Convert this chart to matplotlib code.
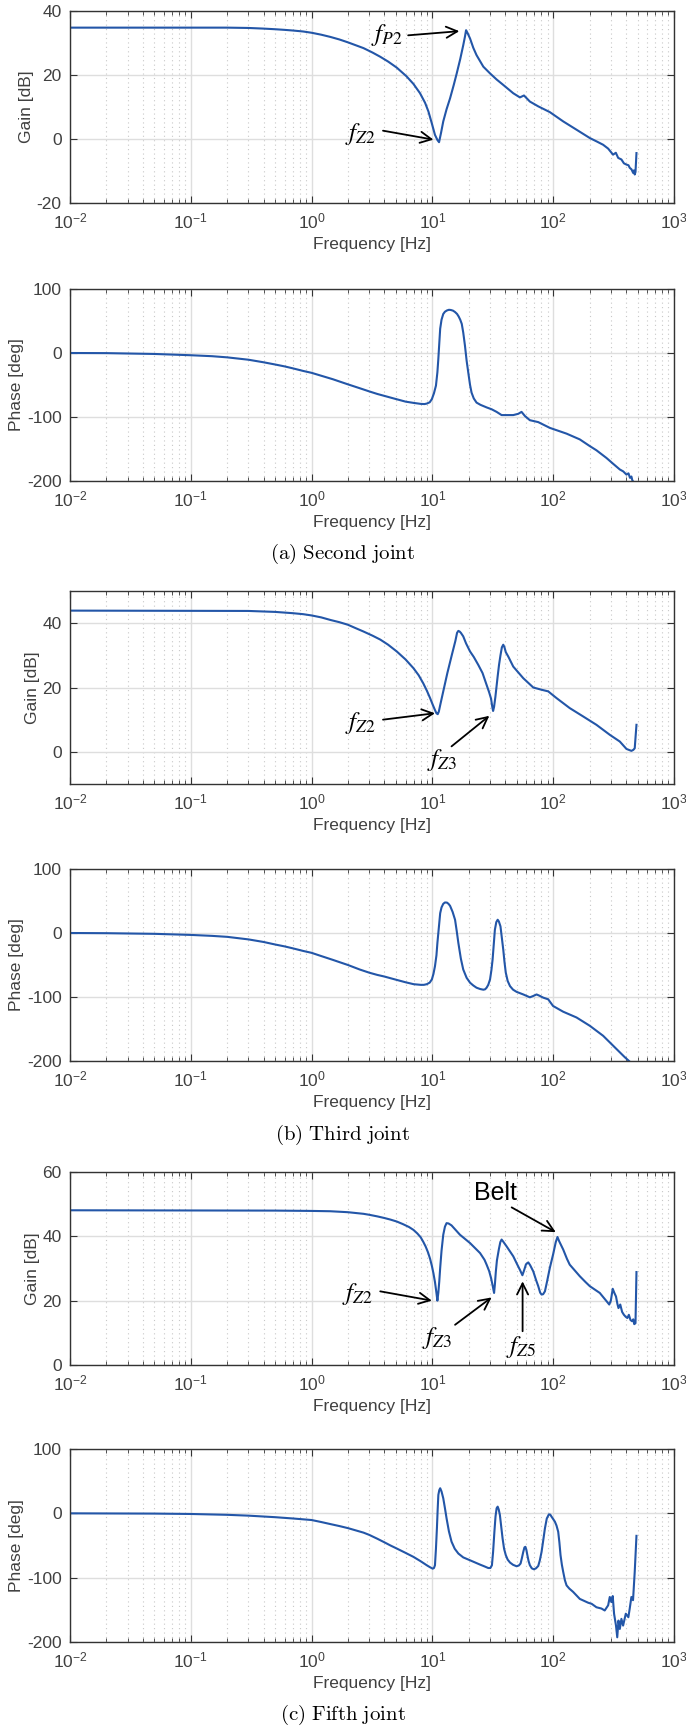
import matplotlib
matplotlib.use("Agg")
import matplotlib.pyplot as plt
from matplotlib.ticker import LogLocator, NullFormatter

plt.rcParams['font.family'] = ['Liberation Sans', 'DejaVu Sans']
plt.rcParams['axes.unicode_minus'] = False

# (a) second joint
f_gain_a = [0.01, 0.2, 0.3, 0.4, 0.5, 0.6, 0.7, 0.85, 1.0, 1.2, 1.43, 1.7, 2.0, 2.69, 3.2, 3.7,
            4.3, 5.07, 6.1, 6.97, 7.9, 8.7, 9.27, 9.87, 10.5, 11.0, 11.35, 11.8, 12.3, 13.1,
            14.0, 15.0, 15.9, 17.0, 18.0, 18.6, 19.0, 19.5, 20.5, 21.8, 23.2, 26.4, 30.0,
            34.0, 38.6, 46.7, 53.0, 57.3, 64.1, 75.2, 93.8, 121, 156, 201, 230, 259, 285, 313,
            330, 345, 367, 385, 404, 420, 430, 445, 459, 466, 473, 480, 489]
gain_a = [34.8, 34.8, 34.7, 34.5, 34.3, 34.1, 33.9, 33.6, 33.2, 32.6, 31.9, 31.1, 30.2, 28.4,
          27.0, 25.7, 24.2, 22.3, 19.6, 17.2, 14.3, 11.3, 8.6, 5.0, 1.3, -0.3, -1.0, 2.0, 5.5,
          9.3, 12.7, 16.8, 20.5, 25.0, 29.3, 32.0, 34.0, 33.2, 31.4, 28.5, 26.2, 22.6, 20.5,
          18.6, 16.9, 14.3, 13.0, 13.6, 11.7, 10.2, 8.4, 5.5, 2.9, 0.3, -0.8, -1.8, -3.0, -4.9,
          -4.3, -5.9, -6.4, -7.6, -8.0, -8.2, -9.0, -9.5, -10.6, -9.8, -11.1, -10.3, -4.4]
f_phase_a = [0.01, 0.02, 0.05, 0.1, 0.15, 0.2, 0.3, 0.4, 0.5, 0.6, 0.7, 0.85, 1.0, 1.2, 1.5, 1.7,
             2.0, 2.5, 3.0, 3.5, 4.0, 5.0, 6.0, 7.0, 8.0, 8.6, 9.0, 9.5, 9.9, 10.3, 10.7, 11.0,
             11.2, 11.4, 11.6, 11.9, 12.3, 12.7, 13.2, 13.7, 14.2, 14.8, 15.4, 16.0, 16.5,
             17.0, 17.5, 18.0, 18.6, 19.2, 19.9, 20.5, 21.1, 22.0, 23.2, 25.0, 28.1, 31.0,
             34.0, 37.4, 46.7, 51.4, 54.7, 58.3, 64.1, 75.2, 93.8, 129, 166, 201, 228, 276,
             313, 356, 380, 404, 420, 432, 444, 452, 458]
phase_a = [0, -0.2, -1.5, -3.5, -5, -6.8, -10.5, -14.5, -18, -21, -24, -28, -31, -35.5, -41, -44.5,
           -49, -55, -60, -64, -67, -72, -76, -78, -79.5, -79.8, -79, -77, -72, -63, -51, -30,
           -9, 15, 38, 52, 61, 64.5, 66.5, 67.5, 67.2, 66.2, 64, 61, 57,
           52, 45.5, 32, 11.5, -12, -33, -50, -62, -71, -77.5, -81, -85, -88,
           -92, -97, -97, -95, -92, -98.4, -105, -108, -117, -126, -135, -145.5, -152, -164,
           -173, -182, -185, -190, -188, -195, -193, -199, -200.5]

# (b) third joint
f_gain_b = [0.01, 0.3, 0.5, 0.7, 0.85, 1.0, 1.2, 1.43, 1.7, 2.0, 2.3, 2.69, 3.2, 3.7, 4.3, 5.07,
            6.0, 6.97, 7.7, 8.4, 9.0, 9.57, 10.0, 10.5, 10.8, 11.07, 11.3, 11.6, 12.3, 13.3,
            14.5, 15.5, 16.0, 16.4, 16.8, 17.2, 18.0, 19.0, 20.5, 22.0, 24.0, 26.0, 28.1, 29.5,
            30.6, 31.3, 31.8, 32.4, 33.2, 34.0, 34.7, 35.6, 36.6, 37.6, 38.6, 39.5, 40.5, 42.5,
            46.7, 56.5, 68.4, 80.1, 90.9, 106.6, 137, 177, 228, 294, 356, 404, 444, 460, 473,
            489]
gain_b = [43.9, 43.8, 43.5, 43.1, 42.8, 42.4, 41.8, 41.0, 40.3, 39.5, 38.5, 37.4, 36.1, 34.9,
          33.3, 31.2, 28.7, 26.0, 23.8, 21.3, 19.0, 16.7, 14.9, 13.0, 12.0, 11.7, 12.5, 14.5,
          18.8, 24.5, 30.2, 34.5, 37.0, 37.6, 37.4, 37.0, 35.9, 33.7, 31.2, 29.5, 27.0, 24.5,
          20.8, 18.5, 16.5, 14.0, 12.7, 14.0, 17.0, 20.5, 23.5, 27.0, 30.0, 32.5, 33.3, 32.5,
          31.0, 29.6, 26.5, 22.9, 20.0, 19.3, 18.8, 16.7, 13.6, 11.0, 8.4, 5.3, 3.2, 0.9, 0.3,
          0.6, 1.1, 8.4]
f_phase_b = [0.01, 0.02, 0.05, 0.1, 0.15, 0.2, 0.3, 0.4, 0.5, 0.6, 0.7, 0.85, 1.0, 1.2, 1.5, 1.7,
             2.0, 2.5, 3.0, 3.5, 4.0, 5.0, 6.0, 7.0, 8.0, 8.5, 8.98, 9.5, 9.9, 10.2, 10.5, 10.8,
             11.0, 11.3, 11.6, 11.9, 12.3, 12.7, 13.2, 13.6, 14.0, 14.7, 15.4, 15.9, 16.4,
             17.2, 18.0, 19.2, 20.5, 21.8, 23.2, 24.8, 26.4, 27.3, 28.1, 29.0, 30.0, 30.8,
             31.5, 32.2, 32.9, 33.8, 34.7, 35.5, 36.6, 37.6, 38.6, 39.5, 40.5, 42.0, 43.9,
             46.5, 49.8, 56.5, 64.1, 68.4, 72.8, 77.0, 82.7, 90.9, 99.7, 121, 156, 201, 259,
             333, 391, 430]
phase_b = [0, -0.3, -1.3, -3, -4.5, -6, -10, -14, -18, -21, -24, -28, -31, -36, -42, -45.5,
           -50, -57, -62, -65.5, -68, -73, -77, -80, -81, -81, -80, -77.5, -72.5, -64, -52, -35,
           -15.5, 8, 31, 40, 45.6, 47.7, 47.5, 45.5, 42.5, 33, 20.7, 3, -15.5,
           -40, -57, -70, -77.7, -82, -85.5, -87.5, -88.6, -88, -85.5, -81, -72.5, -58,
           -41.5, -18, 5, 17, 20.7, 18, 10.4, -8, -26, -45, -62, -75, -83,
           -88.5, -92, -96, -100.5, -98.4, -96, -98, -101, -103.6, -114, -123, -132, -145, -160.6,
           -181, -194, -201]

# (c) fifth joint
f_gain_c = [0.01, 0.5, 1.0, 1.43, 2.0, 2.69, 3.0, 3.5, 4.0, 4.5, 5.07, 5.7, 6.4, 6.97, 7.5, 8.0,
            8.4, 8.8, 9.2, 9.57, 9.9, 10.2, 10.5, 10.75, 11.0, 11.2, 11.4, 11.6, 11.9, 12.3,
            12.7, 13.1, 13.6, 14.4, 16.9, 20.5, 24.8, 27.0, 28.1, 29.5, 30.6, 31.6, 32.4, 32.9,
            33.5, 34.2, 35.5, 36.5, 37.4, 38.5, 41.1, 46.7, 50.0, 53.0, 55.6, 57.5, 59.5, 62.2,
            64.5, 68.4, 72.0, 75.2, 78.0, 80.1, 82.5, 85.4, 89.0, 93.8, 100, 105, 108.5, 112,
            121, 130, 137, 150, 166, 185, 201, 243, 277, 291, 300, 311, 320, 331, 340, 347,
            359, 372, 385, 398, 411, 423, 436, 450, 460, 469, 480, 489]
gain_c = [48.1, 48.0, 47.9, 47.8, 47.5, 47.0, 46.7, 46.2, 45.7, 45.2, 44.6, 43.8, 42.9, 42.0,
          40.9, 39.7, 38.3, 36.8, 35.0, 33.0, 30.8, 28.5, 25.8, 23.0, 20.0, 22.5, 26.0, 30.2,
          35.5, 40.5, 43.0, 44.1, 44.0, 43.4, 40.5, 37.9, 34.8, 32.7, 31.2, 29.2, 27.0, 24.5,
          22.4, 25.0, 29.0, 32.5, 36.0, 38.2, 39.0, 38.4, 36.9, 33.8, 31.5, 29.6, 27.9, 29.5,
          31.3, 31.9, 31.0, 29.1, 26.5, 24.5, 22.5, 21.9, 22.0, 22.9, 26.0, 30.2, 34.5, 38.2,
          39.8, 38.5, 35.9, 33.0, 31.2, 29.5, 27.6, 25.8, 24.5, 22.4, 19.8, 18.8, 20.0, 23.7,
          22.5, 21.3, 19.0, 17.7, 18.8, 16.5, 15.6, 15.0, 14.6, 15.6, 14.0, 13.6, 14.2, 12.7,
          13.0, 28.9]
f_phase_c = [0.01, 0.05, 0.1, 0.2, 0.3, 0.5, 0.7, 1.0, 1.2, 1.43, 1.7, 2.0, 2.69, 3.0, 3.5, 4.0,
             4.5, 5.07, 6.0, 6.97, 8.0, 8.98, 9.5, 10.06, 10.3, 10.5, 10.7, 10.9, 11.05, 11.2,
             11.4, 11.6, 11.9, 12.3, 12.7, 13.1, 13.7, 14.4, 15.3, 16.4, 18.0, 20.5, 24.8,
             27.0, 29.0, 30.2, 31.1, 31.8, 32.6, 33.3, 34.0, 34.7, 35.4, 36.2, 37.2, 38.1,
             39.2, 40.5, 42.0, 43.9, 46.5, 49.8, 52.0, 53.7, 55.0, 56.5, 57.8, 58.9, 60.0,
             61.1, 62.5, 64.1, 66.5, 69.2, 72.0, 75.2, 77.5, 80.1, 82.7, 85.4, 88.5, 92.1,
             94.5, 96.9, 100, 103.3, 106.5, 110, 112.5, 115, 118, 121, 125, 129, 136, 146, 166,
             195, 208, 228, 251, 267, 285, 294, 303, 311, 319, 331, 339, 347, 356, 367, 379,
             399, 419, 430, 444, 458, 473, 489]
phase_c = [0, -0.4, -1, -2.3, -3.6, -6, -8, -10.4, -13.5, -16.7, -19.8, -23, -30, -33.5, -39.5, -45,
           -50, -54.7, -61.5, -67.7, -74.5, -80.7, -83.5, -86, -85, -80.7, -55, -23, 5, 28.6,
           36, 39, 34, 23.4, 8, -7.8, -28, -44, -55, -62.5, -68.5, -73, -79.7,
           -82.5, -85, -85, -80.7, -60, -28.6, -5, 7.8, 10.4, 6, -2.6, -22, -39,
           -55, -65, -72, -76.5, -80, -82.3, -81, -78, -70, -60, -53, -52, -57,
           -65, -74, -80.7, -85.5, -87, -85.5, -81.8, -73, -60, -42, -23.4, -8, -1.6,
           -2, -5.2, -9, -13, -19, -28.6, -45, -65, -80, -91, -104, -112, -117, -122, -133,
           -139, -140.6, -146, -148, -151, -143, -130, -138, -128.6, -156, -174.5, -192.7,
           -166.7, -179.7, -164, -174.5, -156, -161.5, -148, -130, -135, -91, -35]

captions = ['(a) Second joint', '(b) Third joint', '(c) Fifth joint']

W, H = 686, 1728
fig = plt.figure(figsize=(W / 100, H / 100), dpi=100)

left, right = 70, 674
panels = [(11, 203), (289, 481), (591, 784), (869, 1061), (1172, 1365), (1449, 1642)]
caption_y = [554, 1135, 1715]

blue = '#2356a8'
gray = '#404040'


def make_ax(top, bottom):
    ax = fig.add_axes([left / W, 1 - bottom / H, (right - left) / W, (bottom - top) / H])
    ax.set_xscale('log')
    ax.set_xlim(1e-2, 1e3)
    ax.xaxis.set_major_locator(LogLocator(base=10, numticks=10))
    ax.xaxis.set_minor_locator(LogLocator(base=10, subs=range(2, 10), numticks=20))
    ax.xaxis.set_minor_formatter(NullFormatter())
    ax.grid(True, which='major', color='#dedede', lw=1.0)
    ax.grid(True, which='minor', axis='x', color='#c8c8c8', lw=0.8, ls=(0, (1, 3)))
    ax.set_axisbelow(True)
    ax.tick_params(which='both', direction='in', top=True, right=True, colors='#333333',
                   labelcolor=gray, labelsize=12.5, pad=6)
    ax.tick_params(which='major', length=5)
    ax.tick_params(which='minor', length=3)
    for s in ax.spines.values():
        s.set_color('#333333')
        s.set_linewidth(1.0)
    ax.set_xlabel('Frequency [Hz]', fontsize=12.5, color=gray, labelpad=4)
    return ax


gains = [(f_gain_a, gain_a, (-20, 40), [-20, 0, 20, 40]),
         (f_gain_b, gain_b, (-10, 50), [0, 20, 40]),
         (f_gain_c, gain_c, (0, 60), [0, 20, 40, 60])]
phases = [(f_phase_a, phase_a), (f_phase_b, phase_b), (f_phase_c, phase_c)]

axes = []
for i in range(3):
    fg, g, lim, ticks = gains[i]
    ax = make_ax(*panels[2 * i])
    ax.plot(fg, g, color=blue, lw=1.5)
    ax.set_ylim(*lim)
    ax.set_yticks(ticks)
    ax.set_ylabel('Gain [dB]', fontsize=12.5, color=gray, labelpad=2)
    axes.append(ax)

    fp, p = phases[i]
    ax2 = make_ax(*panels[2 * i + 1])
    ax2.plot(fp, p, color=blue, lw=1.5)
    ax2.set_ylim(-200, 100)
    ax2.set_yticks([-200, -100, 0, 100])
    ax2.set_ylabel('Phase [deg]', fontsize=12.5, color=gray, labelpad=2)

    fig.text(0.5, 1 - caption_y[i] / H, r'$\mathrm{' + captions[i].replace(' ', r'\ ') + '}$',
             ha='center', va='center', fontsize=15, math_fontfamily='cm')

arrow = dict(arrowstyle='->', color='black', lw=1.3, mutation_scale=20, shrinkA=0, shrinkB=0)


def label(ax, txt, pos, tail, head, size=18, math=True):
    if math:
        ax.text(*pos, txt, ha='center', va='center', fontsize=size, math_fontfamily='stix')
    else:
        ax.text(*pos, txt, ha='center', va='center', fontsize=size)
    ax.annotate('', xy=head, xytext=tail, arrowprops=arrow)


# annotations panel (a)
label(axes[0], r'$f_{P2}$', (4.2, 32.4), (6.3, 32.4), (16.7, 33.7))
label(axes[0], r'$f_{Z2}$', (2.55, 1.5), (3.9, 2.6), (10.2, -0.2))
# panel (b)
label(axes[1], r'$f_{Z2}$', (2.55, 9.0), (3.9, 10.0), (10.5, 12.0))
label(axes[1], r'$f_{Z3}$', (12.1, -2.5), (14.4, 1.7), (29.6, 11.2))
# panel (c)
label(axes[2], r'$f_{Z2}$', (2.4, 22.0), (3.7, 22.9), (9.9, 20.0))
label(axes[2], r'$f_{Z3}$', (11.0, 8.5), (15.4, 12.5), (30.9, 21.0))
label(axes[2], r'$f_{Z5}$', (54.4, 5.5), (55.8, 10.5), (55.8, 26.0))
label(axes[2], 'Belt', (33.3, 53.5), (45.3, 49.0), (105, 41.3), size=18, math=False)

fig.savefig('out.png', dpi=100)
